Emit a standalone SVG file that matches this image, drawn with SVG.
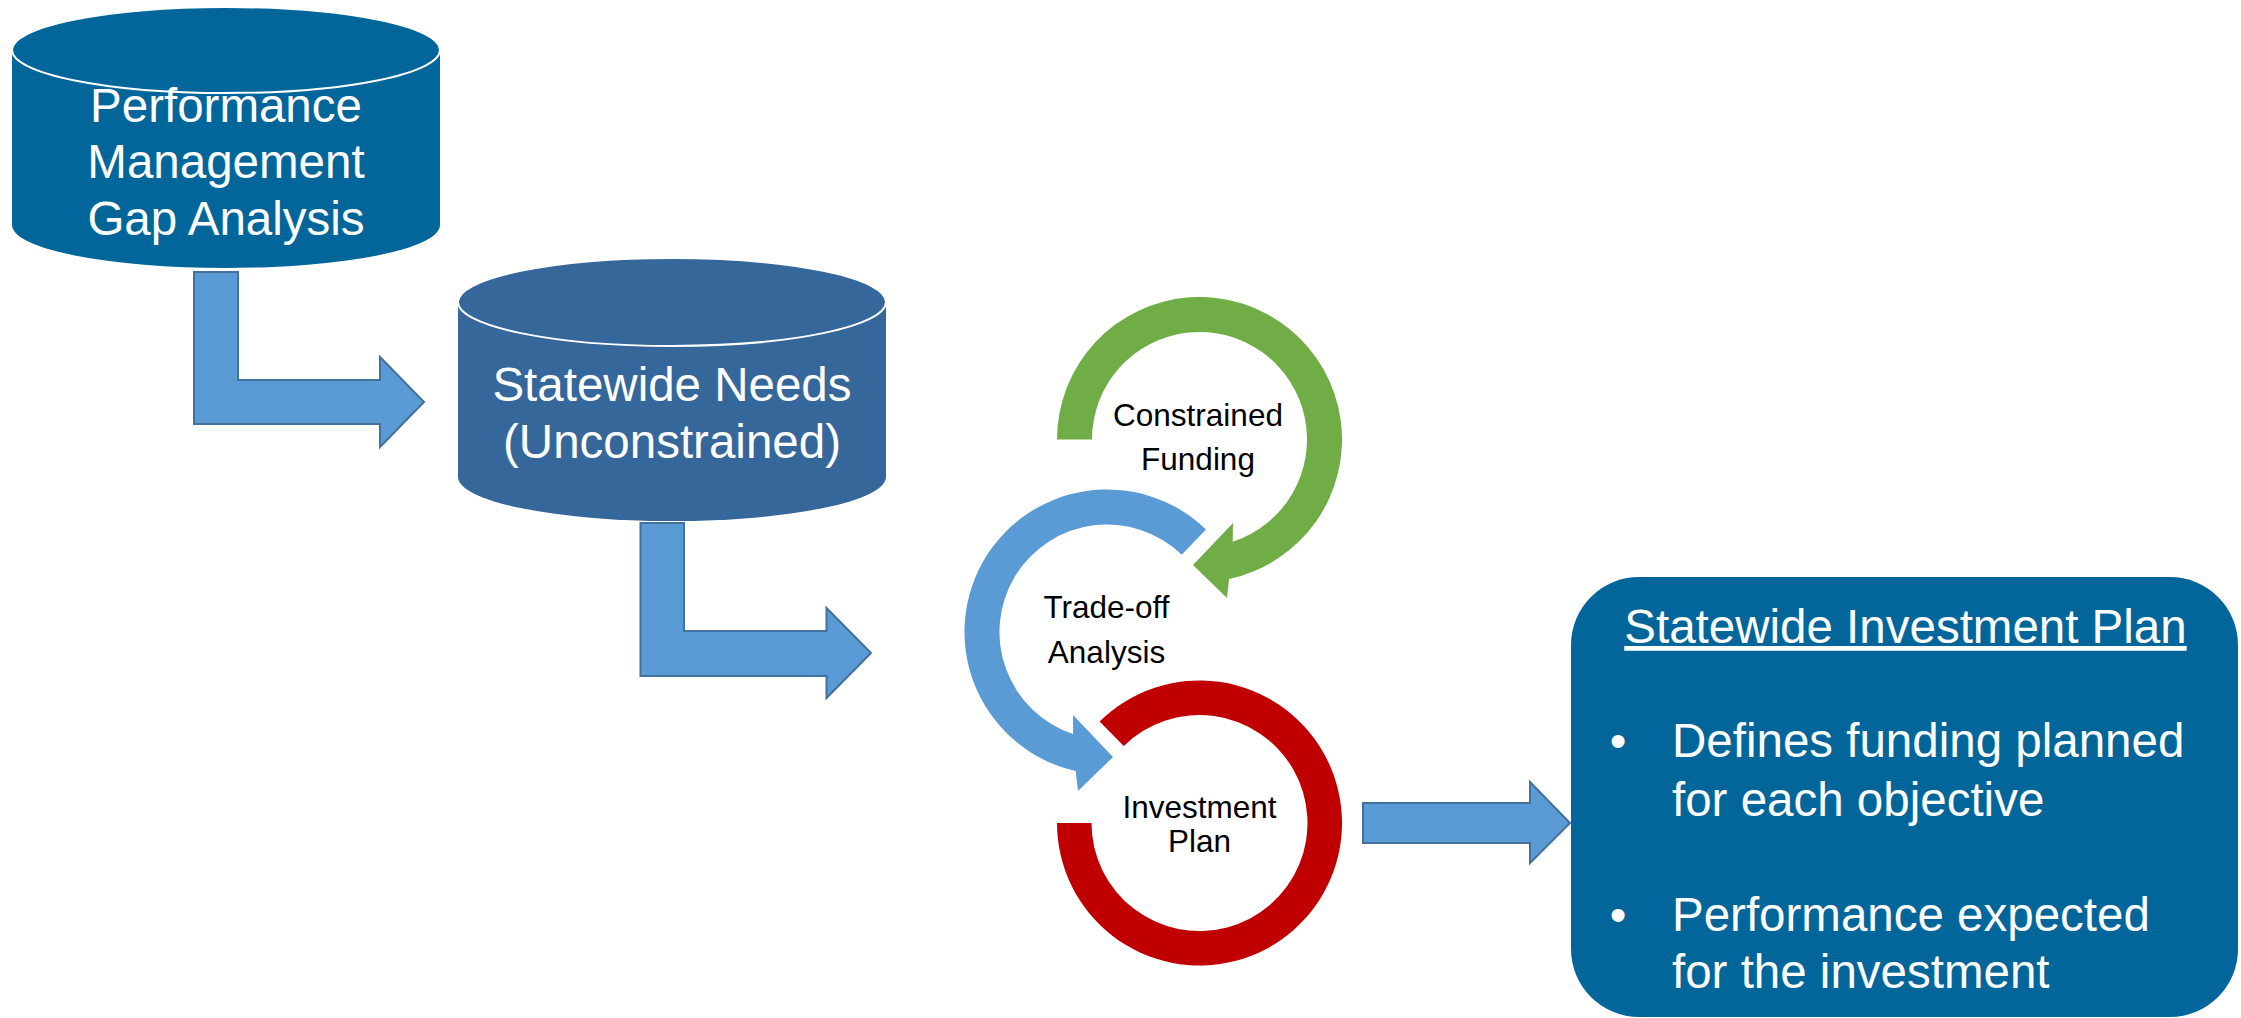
<svg xmlns="http://www.w3.org/2000/svg" width="2241" height="1018" viewBox="0 0 2241 1018">
  <style>
    .lbl { font-family: "Liberation Sans", Arial, sans-serif; }
    .wt { fill: #FFFFFF; font-size: 47.5px; text-anchor: middle; }
    .bk { fill: #000000; font-size: 31.5px; text-anchor: middle; }
    .bul { fill: #FFFFFF; font-size: 47.5px; }
    .blk { fill: #5B9BD5; stroke: #41719C; stroke-width: 2; stroke-linejoin: miter; }
    .cylTop { stroke: #FFFFFF; stroke-width: 2; }
  </style>
  <rect x="0" y="0" width="2241" height="1018" fill="#FFFFFF"/>

  <g id="connectors">
    <path id="arrow-gap-to-needs" class="blk" d="M194,272 L238,272 L238,380 L380,380 L380,357 L424,402 L380,447 L380,424 L194,424 Z"/>
    <path id="arrow-needs-to-cycle" class="blk" d="M640.5,523 L684,523 L684,631 L826.5,631 L826.5,608 L871,653 L826.5,698 L826.5,676 L640.5,676 Z"/>
    <path id="arrow-plan-to-box" class="blk" d="M1363,803 L1530,803 L1530,782 L1570,823 L1530,863 L1530,843 L1363,843 Z"/>
  </g>

  <g id="node-gap-analysis">
    <path d="M12,50 A214,43 0 0 1 440,50 L440,225 A214,43 0 0 1 12,225 Z" fill="#02669A"/>
    <ellipse class="cylTop" cx="226" cy="50" rx="214" ry="43" fill="#02669A"/>
    <text class="lbl wt" x="226" y="122">Performance</text>
    <text class="lbl wt" x="226" y="178">Management</text>
    <text class="lbl wt" x="226" y="235">Gap Analysis</text>
  </g>

  <g id="node-statewide-needs">
    <path d="M458,302 A214,44 0 0 1 886,302 L886,477 A214,44 0 0 1 458,477 Z" fill="#35679A"/>
    <ellipse class="cylTop" cx="672" cy="302" rx="214" ry="44" fill="#35679A"/>
    <text class="lbl wt" x="672" y="401">Statewide Needs</text>
    <text class="lbl wt" x="672" y="458">(Unconstrained)</text>
  </g>

  <g id="node-constrained-funding">
    <path d="M1057,439.5 A142.5,142.5 0 1 1 1229.1,578.9 L1227,598 L1193,565 L1233,523 L1232.7,541.7 A107.5,107.5 0 1 0 1092,439.5 Z" fill="#70AD47"/>
    <text class="lbl bk" x="1198" y="426">Constrained</text>
    <text class="lbl bk" x="1198" y="470">Funding</text>
  </g>

  <g id="node-tradeoff-analysis">
    <path d="M1206,529.5 A142.5,142.5 0 1 0 1075.7,771 L1078,791 L1113,757 L1073,715 L1073.1,734 A107.5,107.5 0 1 1 1181.7,554.7 Z" fill="#5B9BD5"/>
    <text class="lbl bk" x="1106.5" y="618">Trade-off</text>
    <text class="lbl bk" x="1106.5" y="663">Analysis</text>
  </g>

  <g id="node-investment-plan">
    <path d="M1057,823 A142.5,142.5 0 1 0 1099.6,721.4 L1123.8,746 A108,108 0 1 1 1091.5,823 Z" fill="#C00000"/>
    <text class="lbl bk" x="1199.5" y="818">Investment</text>
    <text class="lbl bk" x="1199.5" y="852">Plan</text>
  </g>

  <g id="node-statewide-investment-plan">
    <rect x="1571" y="577" width="667" height="440" rx="68" ry="68" fill="#02669A"/>
    <text class="lbl wt" x="1905.5" y="643" text-decoration="underline">Statewide Investment Plan</text>
    <text class="lbl bul" x="1618" y="757" text-anchor="middle">•</text>
    <text class="lbl bul" x="1672" y="757">Defines funding planned</text>
    <text class="lbl bul" x="1672" y="816">for each objective</text>
    <text class="lbl bul" x="1618" y="931" text-anchor="middle">•</text>
    <text class="lbl bul" x="1672" y="931">Performance expected</text>
    <text class="lbl bul" x="1672" y="988">for the investment</text>
  </g>
</svg>
